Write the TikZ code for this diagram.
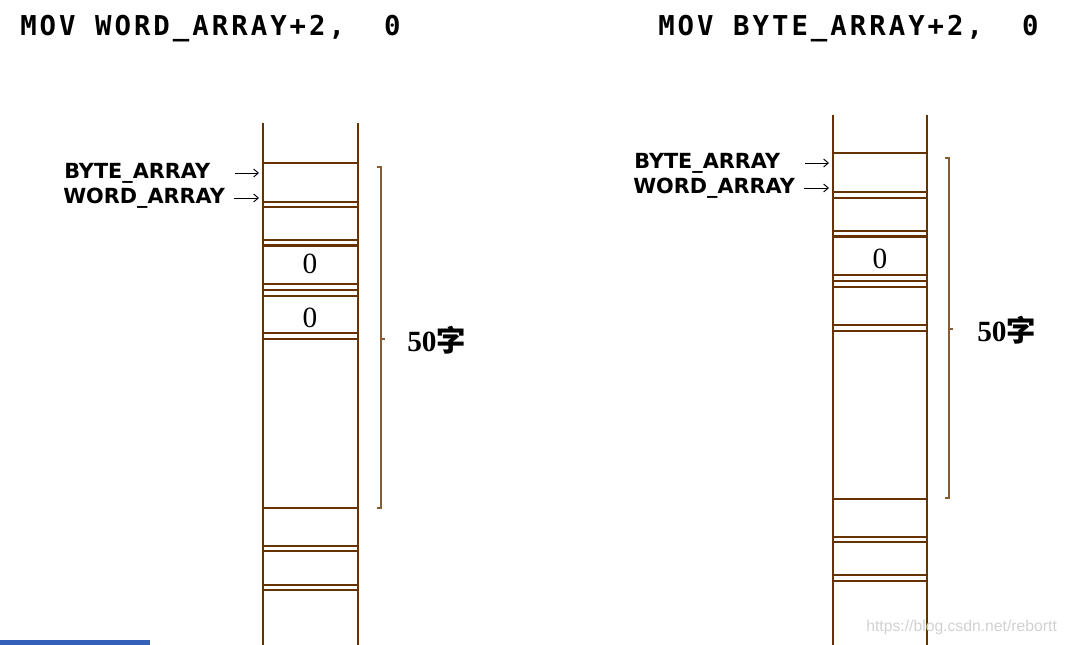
\documentclass[tikz,border=0pt]{standalone}
\usepackage{fontspec}
\usepackage{tikz}
\usetikzlibrary{positioning,arrows.meta}
\setmainfont{Liberation Serif}
\setsansfont{Liberation Sans}
\newfontfamily\titlefont[LetterSpace=11]{DejaVu Sans Mono}
\newfontfamily\labfont{DejaVu Sans}
\newfontfamily\cjk{Noto Sans CJK SC}
\definecolor{cellbrown}{RGB}{102,51,0}
\definecolor{barblue}{RGB}{52,96,186}
\tikzset{
  title/.style={anchor=west,inner sep=0pt,font=\titlefont\bfseries\fontsize{20.5pt}{24pt}\selectfont},
  lab/.style={anchor=west,inner sep=0pt,text width=128pt,align=left,font=\labfont\bfseries\fontsize{15.6pt}{18pt}\selectfont},
  ptr/.style={-{Straight Barb[length=3.5pt,width=6pt]},line width=0.7pt},
  cell/.style={cellbrown,line width=1.5pt},
  zero/.style={inner sep=0pt,font=\fontsize{22pt}{24pt}\selectfont},
  brace/.style={cellbrown!80,line width=0.8pt},
  count/.style={anchor=west,inner sep=0pt,font=\bfseries\fontsize{22pt}{24pt}\selectfont}
}

\begin{document}
\begin{tikzpicture}[x=0.75pt,y=-0.75pt]
\useasboundingbox (0,0) rectangle (1066,645);
\node[title] (movL) at (20,29) {MOV WORD\_ARRAY+2,\ \ 0};
\node[title] (movR) at (658,29) {MOV BYTE\_ARRAY+2,\ \ 0};
\draw[cell] (263,123) -- (263,645) (358,123) -- (358,645);
\foreach \yy in {163,202,207,240,284,290,296,333,339,508,546,551,585,590} {\draw[cell] (263,\yy) -- (358,\yy);}
\draw[cell,line width=2.2pt] (263,245.5) -- (358,245.5);
\draw[cell] (833,115) -- (833,645) (927,115) -- (927,645);
\foreach \yy in {153,192,198,231,275,281,287,325,331,499,537,542,575,581} {\draw[cell] (833,\yy) -- (927,\yy);}
\draw[cell,line width=2.2pt] (833,236.5) -- (927,236.5);
\node[lab] (byteL) at (64,173) {BYTE\_ARRAY};
\node[lab] (wordL) at (63,198) {WORD\_ARRAY};
\coordinate (byteLp) at (259,173);
\coordinate (wordLp) at (259,198);
\draw[ptr] (byteL.east) -- (byteLp);
\draw[ptr] (wordL.east) -- (wordLp);
\node[lab] (byteR) at (634,163) {BYTE\_ARRAY};
\node[lab] (wordR) at (633,188) {WORD\_ARRAY};
\coordinate (byteRp) at (829,163);
\coordinate (wordRp) at (829,188);
\draw[ptr] (byteR.east) -- (byteRp);
\draw[ptr] (wordR.east) -- (wordRp);
\node[zero] (zeroL1) at (310,264) {0};
\node[zero] (zeroL2) at (310,318) {0};
\node[zero] (zeroR1) at (880,259) {0};
\draw[brace] (377,167) -- (381,167) -- (381,508) -- (377,508) (381,339) -- (385,339);
\draw[brace] (945,158) -- (949,158) -- (949,498) -- (945,498) (949,329) -- (953,329);
\node[count] (sizeL) at (407,340) {50{\cjk 字}};
\node[count] (sizeR) at (977,330) {50{\cjk 字}};
\node[anchor=west,inner sep=0pt,text=black!18,font=\sffamily\fontsize{11.8pt}{13pt}\selectfont] (mark) at (866,627) {https://blog.csdn.net/rebortt};
\fill[barblue] (0,640) rectangle (150,645);
\end{tikzpicture}
\end{document}
